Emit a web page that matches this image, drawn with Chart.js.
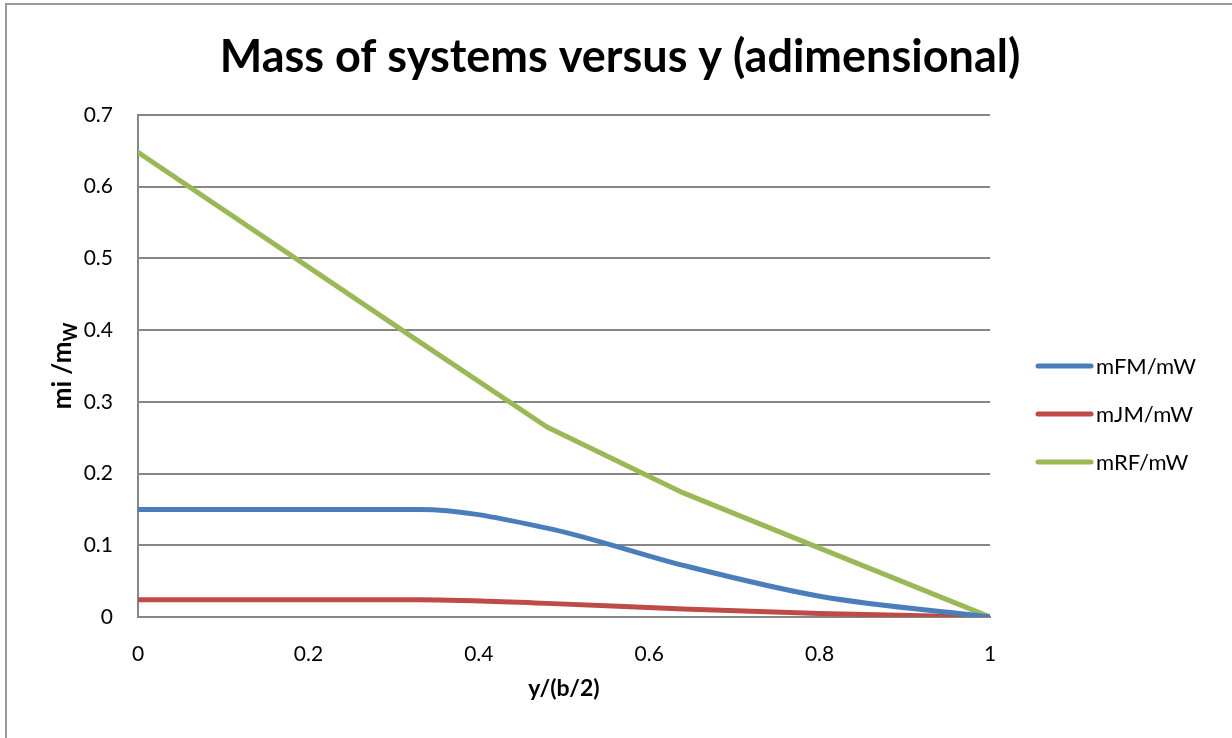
<!DOCTYPE html>
<html>
<head>
<meta charset="utf-8">
<script src="https://cdn.jsdelivr.net/npm/chart.js@4/dist/chart.umd.min.js"></script>
<style>
  html, body { margin: 0; padding: 0; background: #fff; }
  #wrap { width: 1232px; height: 738px; position: relative; }
</style>
</head>
<body>
<div id="wrap"><canvas id="massChart" width="1232" height="738"></canvas></div>
<script>
// spanwise stations y/(b/2)
var stations = [0, 0.33, 0.48, 0.64, 0.8, 1];

// mass ratios at each station
var mFM = [0.150, 0.150, 0.124, 0.072, 0.029, 0];
var mJM = [0.024, 0.024, 0.019, 0.011, 0.005, 0];
var mRF = [0.648, 0.384, 0.265, 0.173, 0.096, 0];

var seriesNames = ['mFM/mW', 'mJM/mW', 'mRF/mW'];
var seriesColors = ['#4a7ebb', '#be4b48', '#98b954'];

var yTicks = [0, 0.1, 0.2, 0.3, 0.4, 0.5, 0.6, 0.7];
var xTicks = [0, 0.2, 0.4, 0.6, 0.8, 1];

var chartTitle = 'Mass of systems versus y (adimensional)';

var FONT = 'Lato, "Open Sans", sans-serif';

function toPoints(values)
{
  return stations.map(function(s, i) { return {x: s, y: values[i]}; });
}

// frame, title, rotated y title with subscript, and legend on the right
var decorations = {
  id: 'decorations',
  afterDraw: function(chart) {
    var ctx = chart.ctx;
    var area = chart.chartArea;

    ctx.save();
    ctx.strokeStyle = '#9a9a9a';
    ctx.lineWidth = 2;
    ctx.strokeRect(6, 4, 1300, 800);
    ctx.restore();

    // title, centred on the whole canvas
    ctx.save();
    ctx.fillStyle = '#000';
    ctx.font = 'bold 45px ' + FONT;
    ctx.textAlign = 'center';
    ctx.textBaseline = 'middle';
    ctx.fillText(chartTitle, 620, 57);
    ctx.restore();

    // y axis title: "mi /m" with subscript W
    ctx.save();
    ctx.translate(62, (area.top + area.bottom) / 2);
    ctx.rotate(-Math.PI / 2);
    ctx.fillStyle = '#000';
    ctx.textBaseline = 'alphabetic';
    var main = 'mi /m';
    ctx.font = 'bold 26px ' + FONT;
    var wMain = ctx.measureText(main).width;
    ctx.font = 'bold 18px ' + FONT;
    var wSub = ctx.measureText('W').width;
    var x0 = -(wMain + wSub) / 2;
    ctx.font = 'bold 26px ' + FONT;
    ctx.fillText(main, x0, 9);
    ctx.font = 'bold 18px ' + FONT;
    ctx.fillText('W', x0 + wMain, 15);
    ctx.restore();

    // legend
    ctx.save();
    ctx.font = '22px ' + FONT;
    ctx.textBaseline = 'middle';
    ctx.lineCap = 'round';
    chart.data.datasets.forEach(function(ds, i) {
      var ly = 366 + i * 48;
      ctx.strokeStyle = ds.borderColor;
      ctx.lineWidth = 5;
      ctx.beginPath();
      ctx.moveTo(1038, ly);
      ctx.lineTo(1091, ly);
      ctx.stroke();
      ctx.fillStyle = '#000';
      ctx.fillText(ds.label, 1096, ly + 1);
    });
    ctx.restore();
  }
};

var chart = new Chart(document.getElementById('massChart'), {
  type: 'line',
  data: {
    datasets: [
      {label: seriesNames[0], data: toPoints(mFM), borderColor: seriesColors[0], cubicInterpolationMode: 'monotone'},
      {label: seriesNames[1], data: toPoints(mJM), borderColor: seriesColors[1], cubicInterpolationMode: 'monotone'},
      {label: seriesNames[2], data: toPoints(mRF), borderColor: seriesColors[2], tension: 0}
    ]
  },
  options: {
    responsive: false,
    animation: false,
    layout: { padding: { left: 0, right: 242, top: 115, bottom: 32 } },
    elements: {
      point: { radius: 0 },
      line: { borderWidth: 5, borderCapStyle: 'round', borderJoinStyle: 'round' }
    },
    plugins: {
      legend: { display: false },
      tooltip: { enabled: false },
      title: { display: false }
    },
    scales: {
      x: {
        type: 'linear',
        min: 0,
        max: 1,
        afterBuildTicks: function(scale) {
          scale.ticks = xTicks.map(function(v) { return {value: v}; });
        },
        afterFit: function(scale) { scale.height = 738 - 32 - 617; },
        grid: { display: false, drawTicks: false },
        border: { display: true, color: '#868686', width: 2 },
        ticks: {
          color: '#000',
          padding: 25,
          maxRotation: 0,
          font: { family: FONT, size: 21 },
          callback: function(v) { return String(v); }
        },
        title: {
          display: true,
          text: 'y/(b/2)',
          color: '#000',
          font: { family: FONT, size: 23, weight: 'bold' },
          padding: { top: 10 }
        }
      },
      y: {
        min: 0,
        max: 0.7,
        afterBuildTicks: function(scale) {
          scale.ticks = yTicks.map(function(v) { return {value: v}; });
        },
        afterFit: function(scale) { scale.width = 138; },
        grid: { color: '#868686', lineWidth: 2, drawTicks: false },
        border: { display: true, color: '#868686', width: 2 },
        ticks: {
          color: '#000',
          padding: 25,
          font: { family: FONT, size: 21 },
          callback: function(v) { return String(v); }
        }
      }
    }
  },
  plugins: [decorations]
});
</script>
</body>
</html>
